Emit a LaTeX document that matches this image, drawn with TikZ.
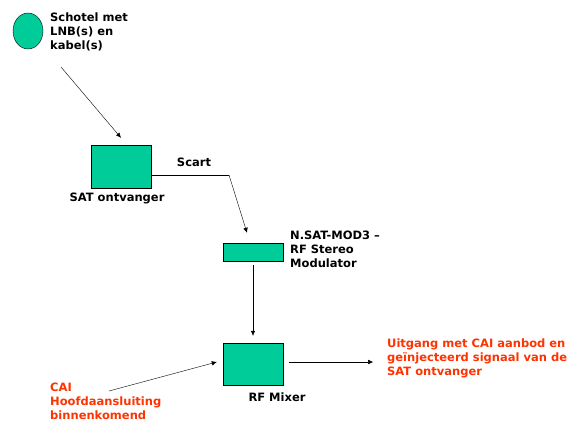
\documentclass[tikz,border=0pt]{standalone}
\usepackage{fontspec}
\setmainfont{DejaVu Sans}
\usetikzlibrary{arrows.meta,positioning,calc,shapes.geometric}
\definecolor{boxgreen}{RGB}{0,204,153}
\definecolor{labelred}{RGB}{255,51,0}

\begin{document}
\begin{tikzpicture}[x=1pt, y=-1pt,
            every node/.style={font=\fontsize{11.5}{14}\selectfont\bfseries},
            box/.style={draw, fill=boxgreen, inner sep=0pt},
            dish/.style={draw, ellipse, fill=boxgreen, minimum width=30pt, minimum height=36pt, inner sep=0pt},
            lbl/.style={align=left, inner sep=0pt, anchor=north west},
            redlbl/.style={lbl, text=labelred},
            every path/.style={thin, -{Latex[length=5pt,width=4.5pt]}}]
        \useasboundingbox[fill=white] (0,0) rectangle (581,434);
        % components
        \node[dish] (dish) at (28,31) {};
        \node[lbl] (dishtxt) at (50,12.5) {Schotel met\\LNB(s) en\\kabel(s)};
        \node[box, minimum width=60pt, minimum height=43pt] (sat) at (121,166.5) {};
        \node[inner sep=0pt] (sattxt) at (117,198) {SAT ontvanger};
        \node[box, minimum width=60pt, minimum height=18pt] (mod) at (253,252) {};
        \node[lbl] (modtxt) at (290,230.5) {N.SAT-MOD3 --\\RF Stereo\\Modulator};
        \node[box, minimum width=60pt, minimum height=42pt] (mix) at (253,364) {};
        \node[inner sep=0pt] (mixtxt) at (277,397) {RF Mixer};
        \node[redlbl] (caitxt) at (50,382.5) {CAI\\Hoofdaansluiting\\binnenkomend};
        \node[redlbl] (outtxt) at (387,338.5) {Uitgang met CAI aanbod en\\geïnjecteerd signaal van de\\SAT ontvanger};
        \node[inner sep=0pt] (scarttxt) at (194,162) {Scart};
        % connectors
        \coordinate (dishout) at (61,67);
        \coordinate (bend) at (229,175);
        \coordinate (caiin) at (109,391);
        \draw (dishout) -- ([yshift=7pt]sat.north);
        \draw[-] ([yshift=-8.5pt]sat.east) -- (bend);
        \draw (bend) -- ([xshift=-6pt, yshift=10pt]mod.north);
        \draw ([yshift=-4pt]mod.south) -- ([yshift=7pt]mix.north);
        \draw (caiin) -- ([xshift=-6pt, yshift=2pt]mix.west);
        \draw ([xshift=6pt, yshift=2pt]mix.east) -- ++(84,0) coordinate (mixout);
\end{tikzpicture}
\end{document}
